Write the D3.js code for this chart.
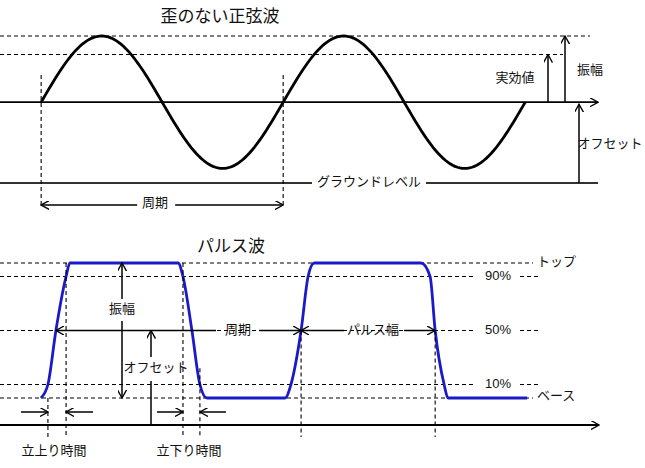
<!DOCTYPE html>
<html><head><meta charset="utf-8">
<script src="https://cdn.jsdelivr.net/npm/d3@7/dist/d3.min.js"></script>
<style>body{margin:0;background:#fff}text{font-family:"Liberation Sans","Noto Sans CJK JP",sans-serif;}</style>
</head><body><svg id="c" width="645" height="468"></svg>
<script>
// time in units (1 unit ≈ horizontal step); sine: start 1.7, period 10
const sineStart = 1.7, sinePeriod = 10, sineCycles = 2;
const sineAmp = 1, sineRms = 0.72, sineOffset = 1.22;
// pulse waveform: time points and level fractions (0 = base, 1 = top)
const pulseT = [1.69,1.98,2.31,2.73,2.89,7.36,7.56,7.93,8.26,8.55,11.78,12.02,12.44,12.73,12.98,17.40,17.77,17.98,18.35,18.51,21.78];
const pulseL = [0,0.1,0.5,0.9,1,1,0.9,0.5,0.1,0,0,0.1,0.5,0.9,1,1,0.9,0.5,0.1,0,0];
const levelNames = ["トップ","90%","50%","10%","ベース"];
const levelVals = [1,0.9,0.5,0.1,0];

const svg = d3.select("#c");
const x = d3.scaleLinear().domain([0,26.65]).range([0,645]);
const ys = d3.scaleLinear().domain([-sineOffset,sineAmp]).range([183,36]);
const yp = d3.scaleLinear().domain([0,1]).range([398,263]);
const F = "font-size";
function line(x1,y1,x2,y2,opt={}){return svg.append("line").attr("x1",x1).attr("y1",y1).attr("x2",x2).attr("y2",y2)
  .attr("stroke",opt.c||"#000").attr("stroke-width",opt.w||1.5).attr("stroke-dasharray",opt.d?"4,3":null)
  .attr("marker-end",opt.e?"url(#ar)":null).attr("marker-start",opt.s?"url(#ar)":null);}
function txt(s,tx,ty,sz=13,anchor="middle"){return svg.append("text").attr("x",tx).attr("y",ty).attr(F,sz).attr("text-anchor",anchor).attr("dominant-baseline","middle").attr("fill","#111").text(s);}
svg.append("defs").append("marker").attr("id","ar").attr("viewBox","0 0 10 10").attr("refX",9).attr("refY",5)
  .attr("markerWidth",9).attr("markerHeight",9).attr("orient","auto-start-reverse").attr("markerUnits","userSpaceOnUse")
  .append("path").attr("d","M0,0 L9,5 L0,10").attr("fill","none").attr("stroke","#000").attr("stroke-width",1.5);

// ---- sine ----
txt("歪のない正弦波",220,18,17);
line(0,ys(sineAmp),590,ys(sineAmp),{d:1,w:1.1});
line(0,ys(sineRms),563,ys(sineRms),{d:1,w:1.1});
line(0,ys(0),598,ys(0),{e:1,w:1.8});
line(0,ys(-sineOffset),312,ys(-sineOffset),{w:1.8,c:"#333"});
line(426,ys(-sineOffset),598,ys(-sineOffset),{w:1.8,c:"#333"});
txt("グラウンドレベル",369,ys(-sineOffset),13);
const sPts = d3.range(0,sineCycles*sinePeriod+0.01,0.1).map(t=>[sineStart+t,Math.sin(2*Math.PI*t/sinePeriod)]);
svg.append("path").datum(sPts).attr("fill","none").attr("stroke","#000").attr("stroke-width",2.8)
  .attr("d",d3.line().x(d=>x(d[0])).y(d=>ys(d[1])));
[sineStart,sineStart+sinePeriod].forEach(t=>line(x(t),75,x(t),208,{d:1,w:1.1}));
line(x(sineStart)+96,205,x(sineStart),205,{e:1});
line(x(sineStart+sinePeriod)-108,205,x(sineStart+sinePeriod),205,{e:1});
txt("周期",155,204,13);
line(548,ys(0),548,ys(sineRms),{e:1});
line(565,ys(0),565,ys(sineAmp),{e:1});
line(579,ys(-sineOffset),579,ys(0)+2,{e:1});
txt("実効値",515,79,13);txt("振幅",590,71,13);txt("オフセット",610,145,13);

// ---- pulse ----
txt("パルス波",231,248,17);
levelVals.forEach((v,i)=>{
  if(i===0||i===4){line(0,yp(v),533,yp(v),{d:1,w:1.1});txt(levelNames[i],537,yp(v)+(i==4?-1:0),13,"start");}
  else{line(0,yp(v),476,yp(v),{d:1,w:1.1});line(520,yp(v),541,yp(v),{d:1,w:1.1});txt(levelNames[i],498,yp(v),13);}
});
line(0,425,599,425,{e:1,w:1.8});
svg.append("path").datum(pulseT.map((t,i)=>[t,pulseL[i]])).attr("fill","none").attr("stroke","#1a1ac8").attr("stroke-width",2.8)
  .attr("d",d3.line().curve(d3.curveMonotoneX).x(d=>x(d[0])).y(d=>yp(d[1])));
[[pulseT[1],yp(0)],[pulseT[3],yp(1)],[pulseT[6],yp(1)],[pulseT[8],yp(0.22)],[pulseT[12],yp(0.5)],[pulseT[17],yp(0.5)]]
  .forEach(([t,y0])=>line(x(t),y0,x(t),437,{d:1,w:1.1}));
line(21,412,x(pulseT[1]),412,{e:1});line(93,412,x(pulseT[3]),412,{e:1});
line(157,412,x(pulseT[6]),412,{e:1});line(226,412,x(pulseT[8]),412,{e:1});
line(122,299,122,yp(1),{e:1});line(122,321,122,yp(0),{e:1});txt("振幅",122,310,13);
line(216,yp(0.5),x(pulseT[2]),yp(0.5),{e:1});line(259,yp(0.5),x(pulseT[12]),yp(0.5),{e:1});txt("周期",238,yp(0.5),13);
line(344,yp(0.5),x(pulseT[12]),yp(0.5),{e:1});line(404,yp(0.5),x(pulseT[17]),yp(0.5),{e:1});txt("パルス幅",373,yp(0.5),13);
line(151,357,151,yp(0.5),{e:1});line(151,381,151,425);txt("オフセット",156,369,13);
txt("立上り時間",54,452,13);txt("立下り時間",189,452,13);
</script></body></html>
